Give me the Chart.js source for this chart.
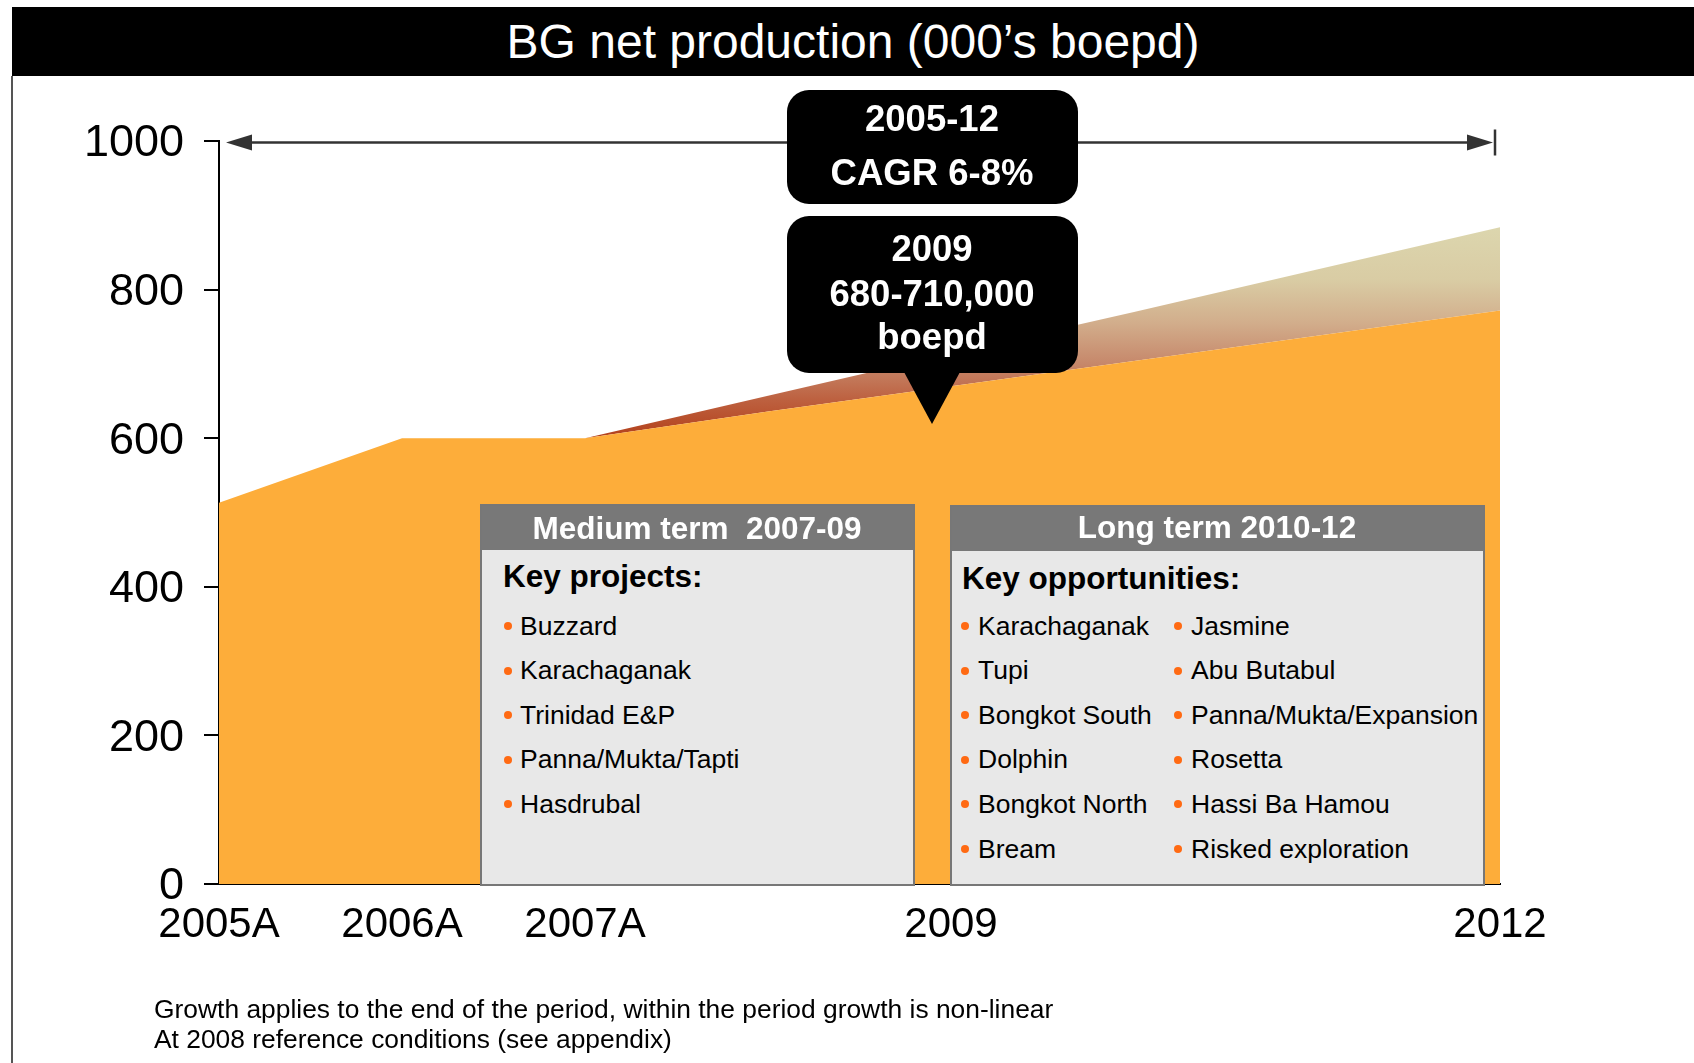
<!DOCTYPE html>
<html>
<head>
<meta charset="utf-8">
<title>BG net production</title>
<script src="https://cdn.jsdelivr.net/npm/chart.js@4.4.1/dist/chart.umd.min.js"></script>
<style>
  html, body { margin: 0; padding: 0; background: #fff; }
  body { width: 1694px; height: 1063px; position: relative; overflow: hidden;
         font-family: "Liberation Sans", Arial, sans-serif; }
  #chart { position: absolute; left: 0; top: 0; }
  .titlebar { position: absolute; left: 12px; top: 7px; width: 1682px; height: 69px;
              background: #000; color: #fff; font-size: 48px; line-height: 69px; text-align: center; }
  .frame { position: absolute; left: 11px; top: 76px; width: 2px; height: 987px; background: #555; }
  .txt { position: absolute; line-height: 1; white-space: pre; }
  .dot { position: absolute; width: 8px; height: 8px; border-radius: 50%; background: #ff6a13; }
  .kbox { position: absolute; background: #e8e8e8; border: 2px solid #777; box-sizing: border-box; }
  .kbox .hd { height: 44px; background: #787878; }
  .callout { position: absolute; background: #000; border-radius: 22px; }
  .pointer { position: absolute; width: 0; height: 0; border-left: 28px solid transparent;
             border-right: 28px solid transparent; border-top: 52px solid #000; }
</style>
</head>
<body>
<canvas id="chart" width="1694" height="1063"></canvas>
<div class="titlebar">BG net production (000’s boepd)</div>
<div class="frame"></div>
<div id="overlay"></div>
<script>
// ---- data ----
const years = [2005, 2006, 2007, 2008, 2009, 2010, 2011, 2012];
const baseProduction = [513, 600, 600, 636, 670, 704, 738, 772];
const upsideProduction = [513, 600, 600, 657, 714, 770, 827, 884];
const xTickYears = [2005, 2006, 2007, 2009, 2012];
const xTickLabels = ['2005A', '2006A', '2007A', '2009', '2012'];
const yTicks = [0, 200, 400, 600, 800, 1000];

const keyProjects = ['Buzzard', 'Karachaganak', 'Trinidad E&P', 'Panna/Mukta/Tapti', 'Hasdrubal'];
const keyOpportunitiesA = ['Karachaganak', 'Tupi', 'Bongkot South', 'Dolphin', 'Bongkot North', 'Bream'];
const keyOpportunitiesB = ['Jasmine', 'Abu Butabul', 'Panna/Mukta/Expansion', 'Rosetta', 'Hassi Ba Hamou', 'Risked exploration'];
const notes = [
    'Growth applies to the end of the period, within the period growth is non-linear',
    'At 2008 reference conditions (see appendix)'
];

const FONT = '"Liberation Sans", Arial, sans-serif';

// vertical gradient for the upside band (beige on top, rust at the bottom)
function upsideFill(context) {
    const chart = context.chart;
    const { chartArea, scales } = chart;
    if (!chartArea) return '#c8906f';
    const top = scales.y.getPixelForValue(Math.max(...upsideProduction));
    const bottom = scales.y.getPixelForValue(baseProduction[2]);
    const g = chart.ctx.createLinearGradient(0, top, 0, bottom);
    g.addColorStop(0, '#dcd6ae');
    g.addColorStop(0.25, '#d9cca4');
    g.addColorStop(0.45, '#d2ae8c');
    g.addColorStop(0.65, '#c6876a');
    g.addColorStop(0.82, '#bd603f');
    g.addColorStop(1, '#b3401a');
    return g;
}

// --- CAGR arrow across the top of the plot ---
const arrowPlugin = {
    id: 'cagrArrow',
    afterDraw(chart) {
        const { ctx, scales: { x, y } } = chart;
        const yy = y.getPixelForValue(1000) + 1.5;
        const x0 = x.getPixelForValue(2005) + 7;
        const x1 = x.getPixelForValue(2012) - 7;
        ctx.save();
        ctx.strokeStyle = '#333';
        ctx.fillStyle = '#333';
        ctx.lineWidth = 2.5;
        ctx.beginPath();
        ctx.moveTo(x0 + 20, yy);
        ctx.lineTo(x1 - 20, yy);
        ctx.stroke();
        ctx.beginPath();
        ctx.moveTo(x0, yy);
        ctx.lineTo(x0 + 26, yy - 8);
        ctx.lineTo(x0 + 26, yy + 8);
        ctx.closePath();
        ctx.fill();
        ctx.beginPath();
        ctx.moveTo(x1, yy);
        ctx.lineTo(x1 - 26, yy - 8);
        ctx.lineTo(x1 - 26, yy + 8);
        ctx.closePath();
        ctx.fill();
        ctx.beginPath();
        ctx.moveTo(x1 + 2, yy - 13);
        ctx.lineTo(x1 + 2, yy + 13);
        ctx.stroke();
        ctx.restore();
    }
};

new Chart(document.getElementById('chart'), {
    type: 'line',
    data: {
        datasets: [{
            label: 'Base',
            data: years.map((yr, i) => ({ x: yr, y: baseProduction[i] })),
            backgroundColor: '#fdad3a',
            borderWidth: 0,
            pointRadius: 0,
            fill: 'origin'
        }, {
            label: 'Upside',
            data: years.map((yr, i) => ({ x: yr, y: upsideProduction[i] })),
            backgroundColor: upsideFill,
            borderWidth: 0,
            pointRadius: 0,
            fill: '-1'
        }]
    },
    options: {
        responsive: false,
        animation: false,
        devicePixelRatio: 1,
        layout: { padding: { left: 0, top: 141, right: 194, bottom: 119 } },
        plugins: { legend: { display: false }, tooltip: { enabled: false } },
        scales: {
            x: {
                type: 'linear', min: 2005, max: 2012, z: 1,
                afterBuildTicks: (axis) => { axis.ticks = xTickYears.map(v => ({ value: v })); },
                afterFit: (axis) => { axis.height = 60; },
                grid: { drawOnChartArea: false, drawTicks: false },
                border: { color: '#000', width: 2 },
                ticks: {
                    autoSkip: false, maxRotation: 0, padding: 16, color: '#000',
                    font: { family: FONT, size: 42 },
                    callback: (v) => xTickLabels[xTickYears.indexOf(v)] ?? ''
                }
            },
            y: {
                min: 0, max: 1000, z: 1,
                afterBuildTicks: (axis) => { axis.ticks = yTicks.map(v => ({ value: v })); },
                afterFit: (axis) => { axis.width = 219; },
                grid: { drawOnChartArea: false, drawTicks: true, tickLength: 15, color: '#000', lineWidth: 2 },
                border: { color: '#000', width: 2 },
                ticks: {
                    padding: 20, labelOffset: 3, color: '#000',
                    font: { family: FONT, size: 45 },
                    callback: (v) => String(v)
                }
            }
        }
    },
    plugins: [arrowPlugin]
});

// --- overlay boxes and text ---
const overlay = document.getElementById('overlay');

function addText(txt, x, base, size, opts = {}) {
    const d = document.createElement('div');
    d.className = 'txt';
    d.textContent = txt;
    d.style.fontSize = size + 'px';
    d.style.top = (base - 0.8465 * size) + 'px';
    if (opts.center) {
        d.style.left = (x - 400) + 'px';
        d.style.width = '800px';
        d.style.textAlign = 'center';
    } else {
        d.style.left = x + 'px';
    }
    if (opts.bold) d.style.fontWeight = 'bold';
    d.style.color = opts.color || '#000';
    overlay.appendChild(d);
}

function addDot(cx, cy) {
    const d = document.createElement('div');
    d.className = 'dot';
    d.style.left = (cx - 4) + 'px';
    d.style.top = (cy - 4) + 'px';
    overlay.appendChild(d);
}

function addBox(left, top, width, height) {
    const b = document.createElement('div');
    b.className = 'kbox';
    Object.assign(b.style, { left: left + 'px', top: top + 'px', width: width + 'px', height: height + 'px' });
    const hd = document.createElement('div');
    hd.className = 'hd';
    b.appendChild(hd);
    overlay.appendChild(b);
}

function addList(items, dotX, textX, firstBase, step) {
    items.forEach((t, i) => {
        const base = firstBase + i * step;
        addDot(dotX, base - 9);
        addText(t, textX, base, 26.5);
    });
}

// medium term box
addBox(480, 504, 435, 382);
addText('Medium term  2007-09', 697, 540, 31.5, { bold: true, center: true, color: '#fff' });
addText('Key projects:', 503, 588, 31.5, { bold: true });
addList(keyProjects, 507.5, 520, 635, 44.6);

// long term box
addBox(950, 505, 535, 381);
addText('Long term 2010-12', 1217, 539, 31.5, { bold: true, center: true, color: '#fff' });
addText('Key opportunities:', 962, 590, 31.5, { bold: true });
addList(keyOpportunitiesA, 964.6, 978, 635, 44.6);
addList(keyOpportunitiesB, 1178, 1191, 635, 44.6);

// callouts
function addCallout(left, top, width, height) {
    const c = document.createElement('div');
    c.className = 'callout';
    Object.assign(c.style, { left: left + 'px', top: top + 'px', width: width + 'px', height: height + 'px' });
    overlay.appendChild(c);
}
addCallout(787, 90, 291, 114);
addText('2005-12', 932, 132, 36.5, { bold: true, center: true, color: '#fff' });
addText('CAGR 6-8%', 932, 186, 36.5, { bold: true, center: true, color: '#fff' });

addCallout(787, 216, 291, 157);
const ptr = document.createElement('div');
ptr.className = 'pointer';
ptr.style.left = '904px';
ptr.style.top = '372px';
overlay.appendChild(ptr);
addText('2009', 932, 262, 36.5, { bold: true, center: true, color: '#fff' });
addText('680-710,000', 932, 307, 36.5, { bold: true, center: true, color: '#fff' });
addText('boepd', 932, 350, 36.5, { bold: true, center: true, color: '#fff' });

// footnotes
notes.forEach((t, i) => addText(t, 154, 1018 + i * 30, 26.4));
</script>
</body>
</html>
